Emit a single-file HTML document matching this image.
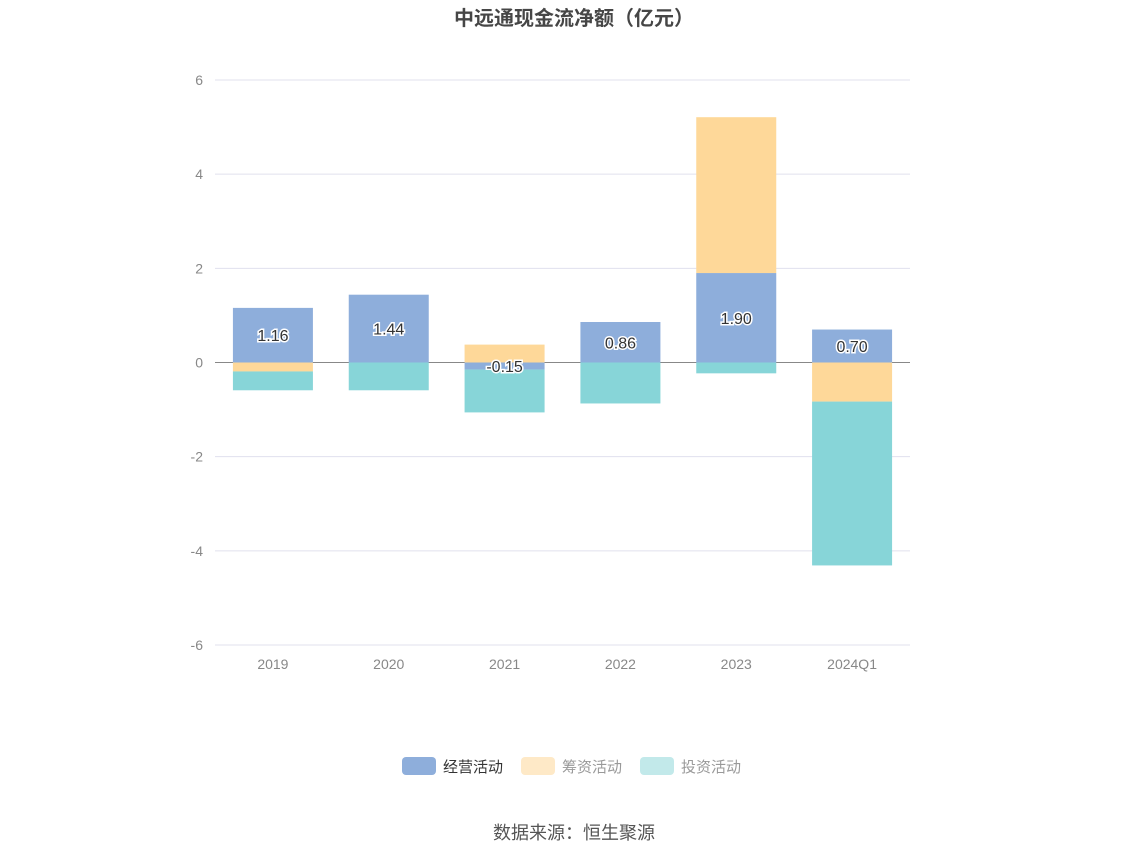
<!DOCTYPE html>
<html><head><meta charset="utf-8"><style>
body{margin:0;background:#fff;}
svg text{font-family:"Liberation Sans","Noto Sans CJK SC",sans-serif;}
</style></head><body>
<svg id="chart" width="1148" height="859" xmlns="http://www.w3.org/2000/svg">
<text x="574" y="25" text-anchor="middle" font-size="20" font-weight="bold" fill="#464646">中远通现金流净额（亿元）</text>
<g id="grid"></g><g id="bars"></g><g id="labels"></g>
<g>
<g><rect x="402" y="757" width="34" height="18" rx="4" fill="#8eaedb"/><text x="443" y="772" font-size="15" fill="#333">经营活动</text></g>
<g><rect x="521" y="757" width="34" height="18" rx="4" fill="#fee9c7"/><text x="562" y="772" font-size="15" fill="#999">筹资活动</text></g>
<g><rect x="640" y="757" width="34" height="18" rx="4" fill="#c2e9ea"/><text x="681" y="772" font-size="15" fill="#999">投资活动</text></g>
</g>
<text x="574" y="839" text-anchor="middle" font-size="18" fill="#555">数据来源：恒生聚源</text>
</svg>
<script>
const categories=["2019","2020","2021","2022","2023","2024Q1"];
const operating=[1.16,1.44,-0.15,0.86,1.90,0.70];
const financing=[-0.19,0,0.38,0,3.31,-0.83];
const investing=[-0.40,-0.59,-0.91,-0.87,-0.23,-3.48];
const yTicks=[6,4,2,0,-2,-4,-6];
const NS="http://www.w3.org/2000/svg";
const x0=215,x1=910,yTop=80,yBot=645,yMax=6,yMin=-6;
const y=v=>yTop+(yMax-v)/(yMax-yMin)*(yBot-yTop);
const bw=(x1-x0)/categories.length;
const xc=i=>x0+bw*(i+0.5);
function mk(t,a,p){const e=document.createElementNS(NS,t);for(const k in a)e.setAttribute(k,a[k]);p.appendChild(e);return e;}
const grid=document.getElementById('grid'),bars=document.getElementById('bars'),labels=document.getElementById('labels');
yTicks.forEach(t=>{
 const l=mk('line',{x1:x0,x2:x1,y1:y(t),y2:y(t),stroke:t===0?'#888':'#e0e0ee','stroke-width':1},grid);
 
 
 const tx=mk('text',{x:x0-12,y:y(t)+5,'text-anchor':'end','font-size':14,fill:'#888'},grid);
 tx.textContent=t;
 
 
});
categories.forEach((c,i)=>{
 const tx=mk('text',{x:xc(i),y:669,'text-anchor':'middle','font-size':14,fill:'#888'},grid);
 tx.textContent=c;
 
 
 let pos=0,neg=0;
 [[operating,'#8eaedb','operating'],[financing,'#fed899','financing'],[investing,'#87d5d8','investing']].forEach(([s,col,nm])=>{
  const v=s[i];if(v===0)return;
  let a,b;if(v>0){a=pos;b=pos+v;pos=b;}else{a=neg;b=neg+v;neg=b;}
  const r=mk('rect',{x:xc(i)-40,width:80,y:Math.min(y(a),y(b)),height:Math.abs(y(a)-y(b)),fill:col},bars);
  
  
  if(nm==='operating'){
   const lt=mk('text',{x:xc(i),y:(y(a)+y(b))/2+6,'text-anchor':'middle','font-size':16,fill:'#333',stroke:'#fff','stroke-width':3,'paint-order':'stroke'},labels);
   lt.textContent=v.toFixed(2);
   
   
  }
 });
});
</script>
</body></html>
